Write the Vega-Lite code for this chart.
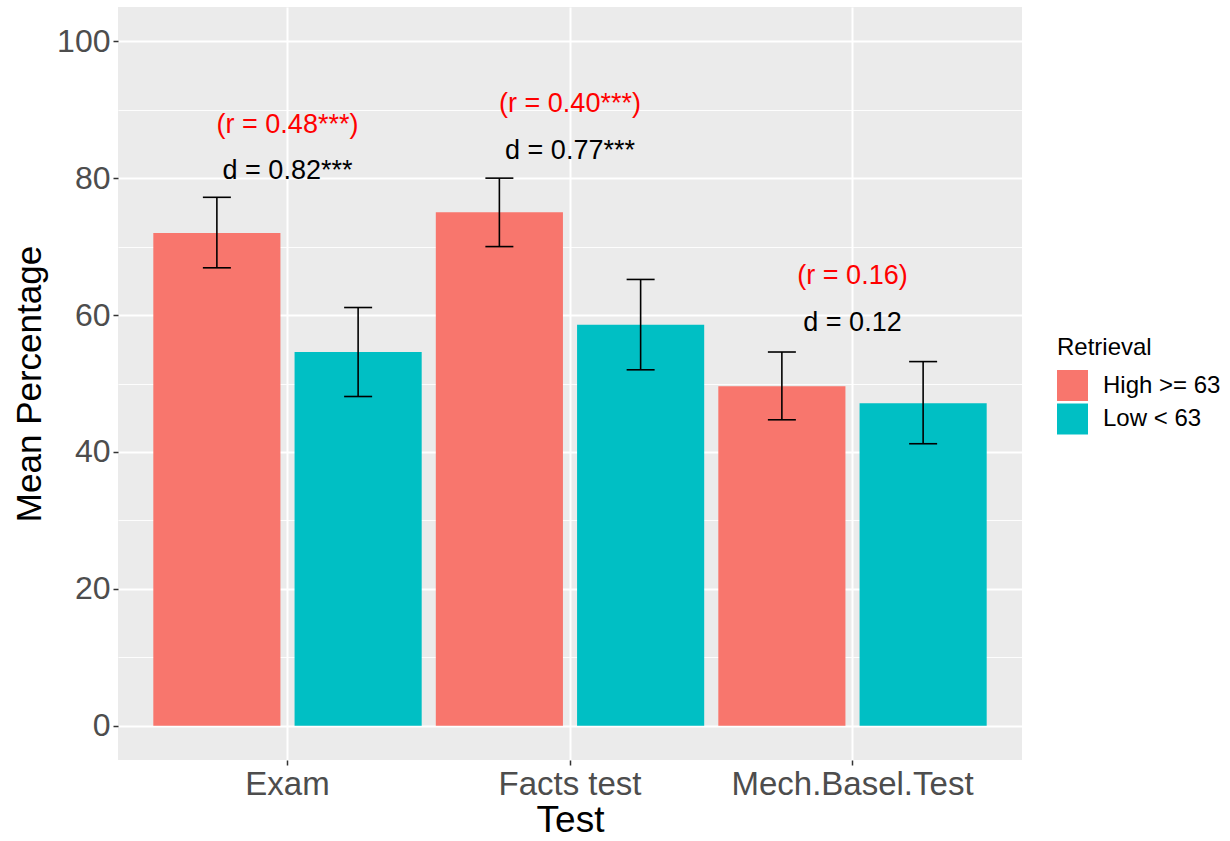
{
  "$schema": "https://vega.github.io/schema/vega-lite/v6.json",
  "width": 904,
  "height": 753,
  "autosize": {"type": "none"},
  "padding": {"left": 118, "top": 7, "right": 208, "bottom": 81},
  "background": "white",
  "config": {
    "font": "Liberation Sans",
    "view": {"fill": "#EBEBEB", "stroke": null},
    "axis": {"titleFontWeight": "normal", "titleColor": "black", "labelColor": "#4D4D4D", "tickColor": "#333333", "domain": false, "gridColor": "white", "labelLimit": 0}
  },
  "datasets": {
    "bars": [
      {"Test": "Exam", "Retrieval": "High >= 63", "Mean": 72.0, "Upper": 77.2, "Lower": 66.9},
      {"Test": "Exam", "Retrieval": "Low < 63", "Mean": 54.6, "Upper": 61.1, "Lower": 48.1},
      {"Test": "Facts test", "Retrieval": "High >= 63", "Mean": 75.0, "Upper": 80.0, "Lower": 70.0},
      {"Test": "Facts test", "Retrieval": "Low < 63", "Mean": 58.6, "Upper": 65.2, "Lower": 52.0},
      {"Test": "Mech.Basel.Test", "Retrieval": "High >= 63", "Mean": 49.6, "Upper": 54.6, "Lower": 44.7},
      {"Test": "Mech.Basel.Test", "Retrieval": "Low < 63", "Mean": 47.1, "Upper": 53.2, "Lower": 41.2}
    ],
    "notes": [
      {"Test": "Exam", "r_label": "(r = 0.48***)", "r_y": 87.8, "d_label": "d = 0.82***", "d_y": 81.0},
      {"Test": "Facts test", "r_label": "(r = 0.40***)", "r_y": 90.8, "d_label": "d = 0.77***", "d_y": 83.9},
      {"Test": "Mech.Basel.Test", "r_label": "(r = 0.16)", "r_y": 65.7, "d_label": "d = 0.12", "d_y": 58.9}
    ]
  },
  "encoding": {
    "x": {
      "field": "Test", "type": "nominal",
      "scale": {"domain": ["Exam", "Facts test", "Mech.Basel.Test"], "paddingInner": 0, "paddingOuter": 0.1},
      "axis": {"title": "Test", "titleFontSize": 37, "titlePadding": 1, "labelFontSize": 33, "labelAngle": 0, "labelPadding": 3, "labelLimit": 0, "tickSize": 5, "tickWidth": 1.5, "grid": true, "gridWidth": 2, "bandPosition": 0.5}
    }
  },
  "layer": [
    {
      "data": {"name": "bars"},
      "mark": {"type": "bar"},
      "encoding": {
        "xOffset": {"field": "Retrieval", "type": "nominal", "scale": {"domain": ["High >= 63", "Low < 63"], "paddingInner": 0.1, "paddingOuter": 0.05}},
        "y": {"field": "Mean", "type": "quantitative", "scale": {"domain": [-5, 105], "nice": false, "zero": false},
              "axis": {"orient": "left", "values": [10, 30, 50, 70, 90], "grid": true, "gridWidth": 0.9, "labels": false, "ticks": false, "title": null, "domain": false}},
        "color": {"field": "Retrieval", "type": "nominal",
                  "scale": {"domain": ["High >= 63", "Low < 63"], "range": ["#F8766D", "#00BFC4"]},
                  "legend": {"orient": "none", "legendX": 939, "legendY": 329, "title": "Retrieval", "titleFontSize": 24, "titleFontWeight": "normal", "titleColor": "black", "titlePadding": 10, "labelFontSize": 24, "labelColor": "black", "labelOffset": 15, "symbolType": "square", "symbolSize": 961, "symbolStrokeWidth": 0, "symbolOpacity": 1, "rowPadding": 2.5, "padding": 0}}
      }
    },
    {
      "data": {"name": "bars"},
      "mark": {"type": "rule", "color": "black", "strokeWidth": 1.6},
      "encoding": {
        "xOffset": {"field": "Retrieval", "type": "nominal"},
        "y": {"field": "Upper", "type": "quantitative",
              "axis": {"orient": "left", "values": [0, 20, 40, 60, 80, 100], "grid": true, "gridWidth": 2, "title": "Mean Percentage", "titleFontSize": 35, "titlePadding": 9, "labelFontSize": 32, "labelPadding": 3, "tickSize": 5, "tickWidth": 1.5}},
        "y2": {"field": "Lower"}
      }
    },
    {
      "data": {"name": "bars"},
      "mark": {"type": "tick", "color": "black", "size": 28, "thickness": 1.6, "orient": "horizontal", "opacity": 1},
      "encoding": {
        "xOffset": {"field": "Retrieval", "type": "nominal"},
        "y": {"field": "Upper", "type": "quantitative", "axis": null}
      }
    },
    {
      "data": {"name": "bars"},
      "mark": {"type": "tick", "color": "black", "size": 28, "thickness": 1.6, "orient": "horizontal", "opacity": 1},
      "encoding": {
        "xOffset": {"field": "Retrieval", "type": "nominal"},
        "y": {"field": "Lower", "type": "quantitative", "axis": null}
      }
    },
    {
      "data": {"name": "notes"},
      "mark": {"type": "text", "color": "#FF0000", "fontSize": 27, "baseline": "middle", "align": "center"},
      "encoding": {
        "y": {"field": "r_y", "type": "quantitative", "axis": null},
        "text": {"field": "r_label"}
      }
    },
    {
      "data": {"name": "notes"},
      "mark": {"type": "text", "color": "black", "fontSize": 27, "baseline": "middle", "align": "center"},
      "encoding": {
        "y": {"field": "d_y", "type": "quantitative", "axis": null},
        "text": {"field": "d_label"}
      }
    }
  ],
  "resolve": {"axis": {"y": "independent"}}
}
